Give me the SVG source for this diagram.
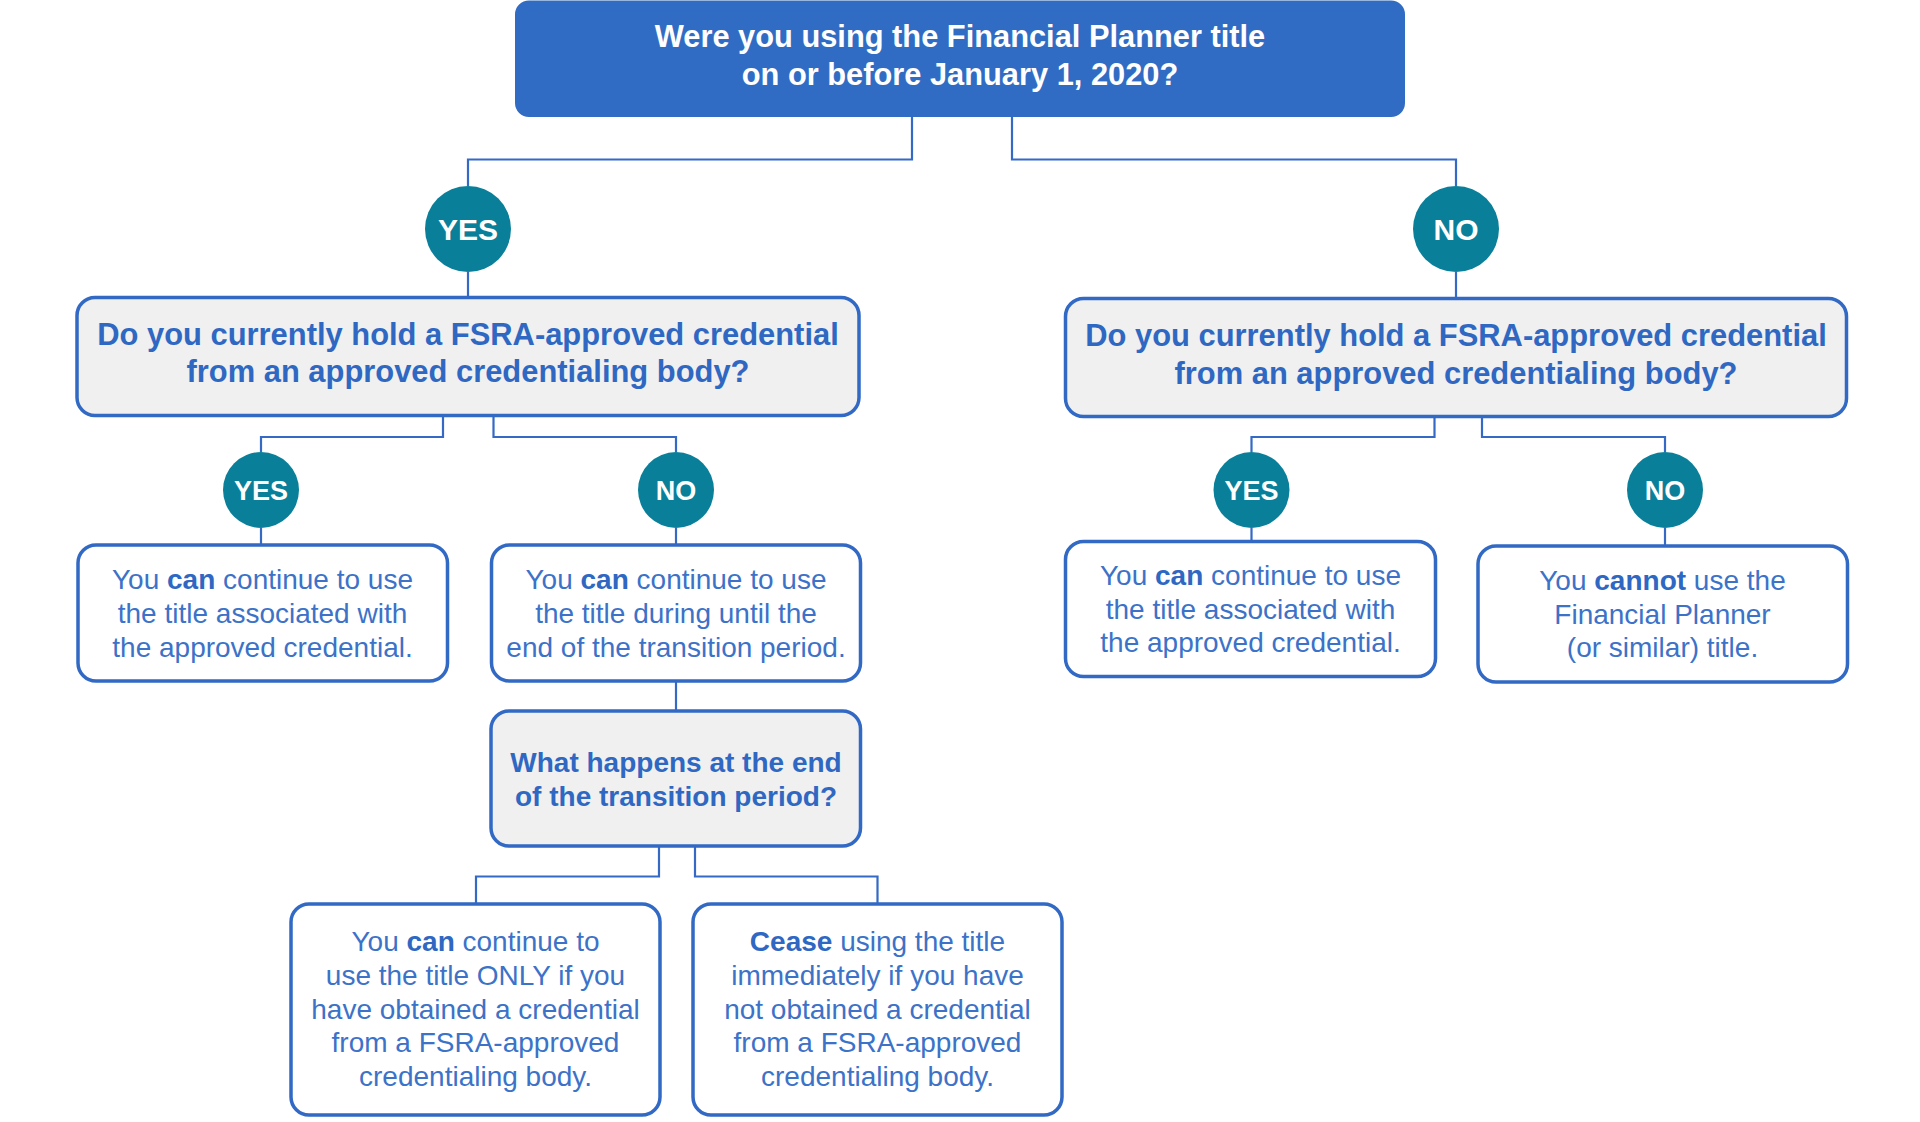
<svg xmlns="http://www.w3.org/2000/svg" width="1920" height="1122" viewBox="0 0 1920 1122">
<style>
.conn{fill:none;stroke:#3569C6;stroke-width:2.2}
.top{fill:#316CC4;stroke:#316CC4;stroke-width:2}
.q{fill:#F0F0F0;stroke:#3169C4;stroke-width:3.5}
.a{fill:#FFFFFF;stroke:#3169C4;stroke-width:3.5}
.c{fill:#0A7F9A}
text{font-family:"Liberation Sans",Arial,Helvetica,sans-serif;text-anchor:middle}
.tt{fill:#FFFFFF;font-weight:bold;font-size:30.8px}
.qt{fill:#2F68C2;font-weight:bold;font-size:30.9px}
.qt2{fill:#2F68C2;font-weight:bold;font-size:28px}
.at{fill:#3C72C8;font-size:28px}
.b{font-weight:bold;fill:#2F68C2}
.ct{fill:#FFFFFF;font-weight:bold;font-size:30px}
.cts{fill:#FFFFFF;font-weight:bold;font-size:27px}
</style>
<rect width="1920" height="1122" fill="#FFFFFF"/>
<g id="connectors">
<polyline class="conn" points="912,116 912,159.5 468,159.5 468,186"/>
<polyline class="conn" points="1012,116 1012,159.5 1456,159.5 1456,186"/>
<line class="conn" x1="468" y1="272" x2="468" y2="297"/>
<line class="conn" x1="1456" y1="272" x2="1456" y2="298"/>
<polyline class="conn" points="443,416 443,437 261,437 261,452"/>
<polyline class="conn" points="493.5,416 493.5,437 676,437 676,452"/>
<line class="conn" x1="261" y1="528" x2="261" y2="545"/>
<line class="conn" x1="676" y1="528" x2="676" y2="545"/>
<line class="conn" x1="676" y1="681" x2="676" y2="711"/>
<polyline class="conn" points="659,846 659,876.5 476,876.5 476,904"/>
<polyline class="conn" points="695,846 695,876.5 877.5,876.5 877.5,904"/>
<polyline class="conn" points="1434.5,416 1434.5,437 1251.5,437 1251.5,452"/>
<polyline class="conn" points="1482,416 1482,437 1665,437 1665,452"/>
<line class="conn" x1="1251.5" y1="528" x2="1251.5" y2="541"/>
<line class="conn" x1="1665" y1="528" x2="1665" y2="546"/>
</g>
<g id="start">
<rect class="top" x="516" y="1.5" width="888" height="114.5" rx="13"/>
<text class="tt" x="960" y="47">Were you using the Financial Planner title</text>
<text class="tt" x="960" y="84.5">on or before January 1, 2020?</text>
</g>
<g id="yes1">
<circle class="c" cx="468" cy="229" r="43"/>
<text class="ct" x="468" y="240">YES</text>
</g>
<g id="no1">
<circle class="c" cx="1456" cy="229" r="43"/>
<text class="ct" x="1456" y="240">NO</text>
</g>
<g id="q-left">
<rect class="q" x="77" y="297.5" width="782" height="118" rx="18"/>
<text class="qt" x="468" y="345">Do you currently hold a FSRA-approved credential</text>
<text class="qt" x="468" y="382">from an approved credentialing body?</text>
</g>
<g id="q-right">
<rect class="q" x="1065.5" y="298.5" width="781" height="118" rx="18"/>
<text class="qt" x="1456" y="346">Do you currently hold a FSRA-approved credential</text>
<text class="qt" x="1456" y="383.5">from an approved credentialing body?</text>
</g>
<g id="yes2">
<circle class="c" cx="261" cy="490" r="38"/>
<text class="cts" x="261" y="499.5">YES</text>
</g>
<g id="no2">
<circle class="c" cx="676" cy="490" r="38"/>
<text class="cts" x="676" y="499.5">NO</text>
</g>
<g id="yes3">
<circle class="c" cx="1251.5" cy="490" r="38"/>
<text class="cts" x="1251.5" y="499.5">YES</text>
</g>
<g id="no3">
<circle class="c" cx="1665" cy="490" r="38"/>
<text class="cts" x="1665" y="499.5">NO</text>
</g>
<g id="a-yes-left">
<rect class="a" x="78" y="545" width="369.5" height="136" rx="18"/>
<text class="at" x="262.5" y="589">You <tspan class="b">can</tspan> continue to use</text>
<text class="at" x="262.5" y="623">the title associated with</text>
<text class="at" x="262.5" y="657">the approved credential.</text>
</g>
<g id="a-no-left">
<rect class="a" x="491.5" y="545" width="369" height="136" rx="18"/>
<text class="at" x="676" y="589">You <tspan class="b">can</tspan> continue to use</text>
<text class="at" x="676" y="623">the title during until the</text>
<text class="at" x="676" y="657">end of the transition period.</text>
</g>
<g id="q-transition">
<rect class="q" x="491" y="711" width="369.5" height="135" rx="18"/>
<text class="qt2" x="676" y="771.5">What happens at the end</text>
<text class="qt2" x="676" y="805.5">of the transition period?</text>
</g>
<g id="a-can">
<rect class="a" x="291" y="904" width="369" height="211" rx="18"/>
<text class="at" x="475.5" y="951">You <tspan class="b">can</tspan> continue to</text>
<text class="at" x="475.5" y="985">use the title ONLY if you</text>
<text class="at" x="475.5" y="1018.5">have obtained a credential</text>
<text class="at" x="475.5" y="1052">from a FSRA-approved</text>
<text class="at" x="475.5" y="1085.5">credentialing body.</text>
</g>
<g id="a-cease">
<rect class="a" x="693" y="904" width="369" height="211" rx="18"/>
<text class="at" x="877.5" y="951"><tspan class="b">Cease</tspan> using the title</text>
<text class="at" x="877.5" y="985">immediately if you have</text>
<text class="at" x="877.5" y="1018.5">not obtained a credential</text>
<text class="at" x="877.5" y="1052">from a FSRA-approved</text>
<text class="at" x="877.5" y="1085.5">credentialing body.</text>
</g>
<g id="a-yes-right">
<rect class="a" x="1065.5" y="541.5" width="370" height="135" rx="18"/>
<text class="at" x="1250.5" y="585">You <tspan class="b">can</tspan> continue to use</text>
<text class="at" x="1250.5" y="618.5">the title associated with</text>
<text class="at" x="1250.5" y="652">the approved credential.</text>
</g>
<g id="a-no-right">
<rect class="a" x="1478" y="546" width="369.5" height="136" rx="18"/>
<text class="at" x="1662.5" y="590">You <tspan class="b">cannot</tspan> use the</text>
<text class="at" x="1662.5" y="623.5">Financial Planner</text>
<text class="at" x="1662.5" y="657">(or similar) title.</text>
</g>
</svg>
